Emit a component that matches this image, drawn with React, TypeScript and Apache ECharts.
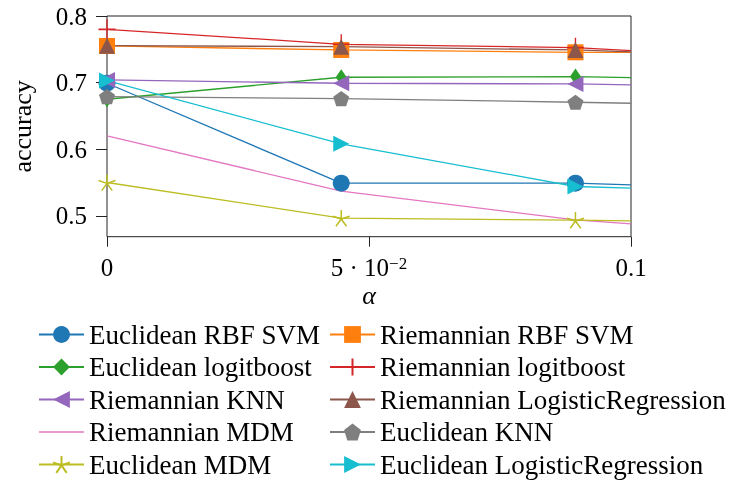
import React, { useEffect, useRef } from "react";
import * as echarts from "echarts";

const alphas = [0, 0.0447, 0.0894, 0.1];
const seriesNames = [
  "Euclidean RBF SVM",
  "Riemannian RBF SVM",
  "Euclidean logitboost",
  "Riemannian logitboost",
  "Riemannian KNN",
  "Riemannian LogisticRegression",
  "Riemannian MDM",
  "Euclidean KNN",
  "Euclidean MDM",
  "Euclidean LogisticRegression",
];
const eucRbfSvm = [0.699, 0.549, 0.549, 0.5465];
const riemRbfSvm = [0.755, 0.749, 0.7455, 0.7455];
const eucLogit = [0.675, 0.708, 0.709, 0.7075];
const riemLogit = [0.78, 0.7575, 0.7525, 0.748];
const riemKnn = [0.704, 0.699, 0.698, 0.6965];
const riemLR = [0.7555, 0.754, 0.749, 0.746];
const riemMdm = [0.62, 0.537, 0.494, 0.488];
const eucKnn = [0.679, 0.676, 0.6705, 0.669];
const eucMdm = [0.55, 0.4965, 0.4935, 0.4925];
const eucLR = [0.703, 0.608, 0.544, 0.5415];
const allValues = [eucRbfSvm, riemRbfSvm, eucLogit, riemLogit, riemKnn, riemLR, riemMdm, eucKnn, eucMdm, eucLR];
const colors = ["#1f77b4", "#ff7f0e", "#2ca02c", "#d62728", "#9467bd", "#8c564b", "#e377c2", "#7f7f7f", "#bcbd22", "#17becf"];
const yTicks = [0.5, 0.6, 0.7, 0.8];

const plusPath = "path://M0,5L10,5M5,0L5,10";
const pentPath = "path://M0,-1L0.951,-0.309L0.588,0.809L-0.588,0.809L-0.951,-0.309Z";
const starPath = "path://M0,0L0,-1M0,0L0.951,-0.309M0,0L0.588,0.809M0,0L-0.588,0.809M0,0L-0.951,-0.309";
const lineOnlyIcon = "path://M0,0M0,9.85L45,9.85L45,11.15L0,11.15ZM45,21";

const markers: any[] = [
  { symbol: "circle", size: 17 },
  { symbol: "rect", size: 16 },
  { symbol: "diamond", size: [11, 16] },
  { symbol: plusPath, size: [17, 20], stroke: true },
  { symbol: "triangle", size: 16, rotate: 90 },
  { symbol: "triangle", size: 16 },
  { symbol: "none", size: 0 },
  { symbol: pentPath, size: 16 },
  { symbol: starPath, size: 17, stroke: true },
  { symbol: "triangle", size: 16, rotate: -90 },
];

const serif = "Liberation Serif";

export default function App() {
  const ref = useRef<HTMLDivElement>(null);
  useEffect(() => {
    const chart = echarts.init(ref.current!, null, { renderer: "svg" });
    const series = seriesNames.map((name, si) => {
      const m = markers[si];
      return {
        name,
        type: "line",
        symbol: m.symbol,
        symbolSize: m.size,
        symbolRotate: m.rotate || 0,
        symbolKeepAspect: true,
        showAllSymbol: true,
        lineStyle: { color: colors[si], width: 1.3 },
        itemStyle: m.stroke
          ? { color: colors[si], borderColor: colors[si], borderWidth: 1.5 }
          : { color: colors[si], borderWidth: 0 },
        data: alphas.map((a, i) =>
          i === alphas.length - 1 ? { value: [a, allValues[si][i]], symbol: "none" } : [a, allValues[si][i]]
        ),
      };
    });
    const legendItem = (name: string) => {
      const si = seriesNames.indexOf(name);
      return markers[si].symbol === "none" ? { name, icon: lineOnlyIcon } : { name };
    };
    const legendCommon = {
      orient: "vertical",
      itemWidth: 45,
      itemHeight: 21,
      itemGap: 5.5,
      top: 321,
      height: 200,
      padding: 0,
      textStyle: { fontFamily: serif, fontSize: 27, color: "#000", lineHeight: 27 },
      selectedMode: false,
    };
    chart.setOption({
      animation: false,
      grid: {
        left: 107,
        right: 110,
        top: 16,
        bottom: 246.3,
        show: true,
        borderColor: "#222",
        borderWidth: 1,
        backgroundColor: "transparent",
      },
      legend: [
        { ...legendCommon, left: 38, data: seriesNames.filter((_, i) => i % 2 === 0).map(legendItem) },
        { ...legendCommon, left: 329, data: seriesNames.filter((_, i) => i % 2 === 1).map(legendItem) },
      ],
      xAxis: {
        type: "value",
        min: 0,
        max: 0.1,
        interval: 0.05,
        name: "α",
        nameLocation: "middle",
        nameGap: 46,
        nameTextStyle: { fontFamily: serif, fontSize: 26, fontStyle: "italic", color: "#000" },
        splitLine: { show: false },
        axisLine: { show: false },
        axisTick: { show: true, length: 10, lineStyle: { color: "#222" } },
        axisLabel: {
          margin: 18,
          fontFamily: serif,
          fontSize: 25,
          color: "#000",
          formatter: (v: number) => {
            if (Math.abs(v) < 1e-9) return "0";
            if (Math.abs(v - 0.05) < 1e-9) return "{a|5 · 10}{s|−2}";
            return "0.1";
          },
          rich: {
            a: { fontFamily: serif, fontSize: 25, color: "#000" },
            s: { fontFamily: serif, fontSize: 17, color: "#000", verticalAlign: "top", padding: [0, 0, 8, 0] },
          },
        },
      },
      yAxis: {
        type: "value",
        min: 0.4686,
        max: 0.8,
        name: "accuracy",
        nameLocation: "middle",
        nameGap: 72,
        nameTextStyle: { fontFamily: serif, fontSize: 26, color: "#000" },
        splitLine: { show: false },
        axisLine: { show: false },
        axisTick: { show: true, length: 11, lineStyle: { color: "#222" }, customValues: yTicks },
        axisLabel: {
          margin: 20,
          fontFamily: serif,
          fontSize: 25,
          color: "#000",
          customValues: yTicks,
          formatter: (v: number) => v.toFixed(1),
        },
      },
      series,
    });
    return () => chart.dispose();
  }, []);
  return <div ref={ref} style={{ position: "fixed", left: 0, top: 0, width: 741, height: 483 }} />;
}
